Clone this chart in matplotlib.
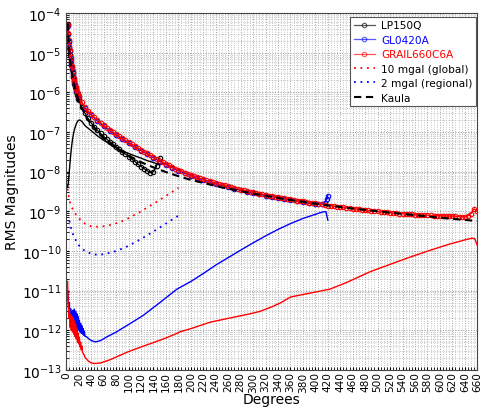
import matplotlib
matplotlib.use("Agg")
import matplotlib.pyplot as plt
from matplotlib.ticker import MultipleLocator, LogLocator, FixedLocator

# ---------------- data ----------------
# LP150Q signal spectrum
lp_deg = list(range(2, 21)) + list(range(25, 151, 5))
lp_sig = [5.2e-5, 3.0e-5, 1.9e-5, 1.3e-5, 9e-6, 6.5e-6, 5e-6, 3.8e-6, 3.0e-6, 2.4e-6,
          1.9e-6, 1.6e-6, 1.35e-6, 1.15e-6, 1.0e-6, 8.8e-7, 7.8e-7, 7.0e-7, 6.3e-7,
          4.2e-7, 3.0e-7, 2.2e-7, 1.7e-7, 1.35e-7, 1.1e-7, 9.2e-8, 7.8e-8, 6.6e-8, 5.7e-8,
          5.0e-8, 4.3e-8, 3.7e-8, 3.2e-8, 2.8e-8, 2.4e-8, 2.1e-8, 1.8e-8, 1.55e-8, 1.35e-8,
          1.2e-8, 1.05e-8, 9.5e-9, 1.0e-8, 1.4e-8, 2.2e-8]
# LP150Q error spectrum
lp_err_deg = [2, 3, 4, 5, 6, 7, 8, 9, 10, 12, 14, 16, 18, 20, 22, 25, 30, 35, 40, 50,
              60, 75, 90, 100, 110, 120, 130, 140, 150]
lp_err = [4e-9, 5e-9, 7e-9, 1.1e-8, 1.7e-8, 2.6e-8, 3.7e-8, 5e-8, 6.5e-8, 1e-7, 1.3e-7,
          1.6e-7, 1.85e-7, 2.0e-7, 2.0e-7, 1.85e-7, 1.45e-7, 1.25e-7, 1.08e-7, 8e-8,
          6.2e-8, 4.4e-8, 3.3e-8, 2.9e-8, 2.5e-8, 2.2e-8, 1.9e-8, 1.7e-8, 1.5e-8]

# GL0420A signal spectrum
gl_deg = list(range(2, 21)) + list(range(30, 401, 10)) + [405, 410, 415, 418, 420]
gl_sig = [4.8e-5, 3.0e-5, 2.0e-5, 1.4e-5, 1.1e-5, 7.5e-6, 5.6e-6, 4.3e-6, 3.3e-6, 2.6e-6,
          2.2e-6, 1.8e-6, 1.5e-6, 1.3e-6, 1.15e-6, 1.0e-6, 9e-7, 8e-7, 7.5e-7,
          4.0e-7, 2.7e-7, 1.9e-7, 1.4e-7, 1.07e-7, 8.3e-8, 6.6e-8, 5.2e-8, 4.2e-8, 3.4e-8,
          2.8e-8, 2.25e-8, 1.8e-8, 1.5e-8, 1.26e-8, 1.07e-8, 9.1e-9, 7.9e-9, 6.9e-9, 6.2e-9,
          5.5e-9, 4.9e-9, 4.5e-9, 4.1e-9, 3.7e-9, 3.4e-9, 3.1e-9, 2.9e-9, 2.7e-9, 2.5e-9,
          2.35e-9, 2.2e-9, 2.05e-9, 1.92e-9, 1.8e-9, 1.7e-9, 1.6e-9, 1.52e-9,
          1.5e-9, 1.5e-9, 1.6e-9, 2.0e-9, 2.5e-9]
# GL0420A error spectrum
gl_err_deg = list(range(2, 31)) + [32, 35, 40, 47, 55, 65, 80, 100, 124, 151, 178, 200,
                                   220, 240, 260, 280, 300, 320, 340, 360, 380, 400,
                                   412, 417, 420]
gl_err = [1.0e-11, 6e-12, 3e-12, 5e-12, 1.5e-12, 3.5e-12, 1.2e-12, 3.0e-12, 1.3e-12,
          3.2e-12, 1.4e-12, 3.4e-12, 1.3e-12, 3.0e-12, 1.2e-12, 2.6e-12, 1.1e-12, 2.2e-12,
          1.0e-12, 1.8e-12, 9e-13, 1.5e-12, 8.5e-13, 1.3e-12, 8e-13, 1.1e-12, 7.5e-13,
          9.5e-13, 7e-13,
          7.0e-13, 6.3e-13, 5.5e-13, 5.1e-13, 5.5e-13, 6.8e-13, 9e-13, 1.4e-12, 2.4e-12,
          5.1e-12, 1.1e-11, 1.7e-11, 2.7e-11, 4.4e-11, 6.8e-11, 1.05e-10, 1.6e-10,
          2.4e-10, 3.5e-10, 4.9e-10, 6.6e-10, 8.4e-10, 9.7e-10, 9.8e-10, 6e-10]

# GRAIL660C6A signal spectrum
gr_deg = list(range(2, 21)) + list(range(25, 661, 5))
gr_sig = [5.0e-5, 3.2e-5, 2.1e-5, 1.5e-5, 1.2e-5, 8.0e-6, 6.0e-6, 4.5e-6, 3.5e-6, 2.7e-6,
          2.3e-6, 1.9e-6, 1.6e-6, 1.4e-6, 1.2e-6, 1.05e-6, 9.5e-7, 8.5e-7, 7.9e-7,
          5.6e-7, 4.2e-7, 3.4e-7, 2.8e-7, 2.35e-7,
          2.0e-7, 1.7e-7, 1.48e-7, 1.29e-7, 1.12e-7,
          1.0e-7, 8.7e-8, 7.8e-8, 6.9e-8, 6.2e-8,
          5.5e-8, 4.9e-8, 4.4e-8, 4.0e-8, 3.55e-8,
          3.2e-8, 2.9e-8, 2.6e-8, 2.35e-8, 2.1e-8,
          1.9e-8, 1.74e-8, 1.58e-8, 1.45e-8, 1.32e-8,
          1.2e-8, 1.12e-8, 1.05e-8, 9.5e-9, 8.9e-9,
          8.3e-9, 7.8e-9, 7.2e-9, 6.8e-9, 6.5e-9,
          6.0e-9, 5.75e-9, 5.5e-9, 5.1e-9, 4.9e-9,
          4.7e-9, 4.5e-9, 4.3e-9, 4.1e-9, 3.9e-9,
          3.7e-9, 3.55e-9, 3.4e-9, 3.25e-9, 3.15e-9,
          3.0e-9, 2.9e-9, 2.8e-9, 2.7e-9, 2.6e-9,
          2.5e-9, 2.45e-9, 2.35e-9, 2.3e-9, 2.2e-9,
          2.15e-9, 2.1e-9, 2.0e-9, 1.95e-9, 1.86e-9,
          1.82e-9, 1.78e-9, 1.74e-9, 1.66e-9, 1.62e-9,
          1.58e-9, 1.55e-9, 1.5e-9, 1.45e-9, 1.4e-9,
          1.38e-9, 1.35e-9, 1.32e-9, 1.29e-9, 1.26e-9,
          1.23e-9, 1.2e-9, 1.17e-9, 1.15e-9, 1.12e-9,
          1.1e-9, 1.07e-9, 1.05e-9, 1.03e-9, 1.01e-9,
          1.0e-9, 9.8e-10, 9.6e-10, 9.4e-10, 9.2e-10,
          9.1e-10, 8.9e-10, 8.8e-10, 8.7e-10, 8.6e-10,
          8.5e-10, 8.4e-10, 8.3e-10, 8.2e-10, 8.1e-10,
          8.0e-10, 7.9e-10, 7.9e-10, 7.8e-10, 7.8e-10,
          7.7e-10, 7.7e-10, 7.6e-10, 7.6e-10, 7.5e-10,
          7.5e-10, 7.4e-10, 7.4e-10, 7.4e-10, 7.8e-10,
          8.8e-10, 1.15e-9, 1.0e-9]
# GRAIL660C6A error spectrum
gr_err_deg = list(range(2, 27)) + [28, 30, 35, 40, 45, 55, 70, 85, 100, 120, 140, 160,
                                   175, 183, 200, 231, 260, 295, 311, 330, 345, 360,
                                   380, 400, 424, 450, 488, 520, 552, 585, 616, 640,
                                   651, 656, 660]
gr_err = [1.7e-11, 5e-12, 2e-12, 3.5e-12, 1.2e-12, 2.5e-12, 1.0e-12, 2.2e-12, 9e-13,
          2.0e-12, 8e-13, 1.7e-12, 7e-13, 1.4e-12, 6e-13, 1.1e-12, 5e-13, 8.5e-13,
          4.5e-13, 6.5e-13, 3.8e-13, 5e-13, 3.2e-13, 4e-13, 2.8e-13,
          2.5e-13, 2.1e-13, 1.7e-13, 1.5e-13, 1.45e-13, 1.5e-13, 1.8e-13, 2.3e-13,
          2.9e-13, 3.8e-13, 4.9e-13, 6.4e-13, 8.0e-13, 9.2e-13, 1.1e-12, 1.6e-12,
          2.0e-12, 2.6e-12, 3.0e-12, 3.9e-12, 5.0e-12, 6.9e-12, 8.0e-12, 9.2e-12,
          1.1e-11, 1.6e-11, 3.0e-11, 4.6e-11, 7.0e-11, 1.05e-10, 1.5e-10, 1.9e-10,
          2.1e-10, 2.05e-10, 1.4e-10]

# Gravity anomaly equivalent spectra
mg10_deg = [2, 4, 6, 8, 10, 15, 20, 25, 30, 40, 50, 60, 70, 80, 90, 100, 110, 120, 130,
            140, 150, 160, 170, 180]
mg10 = [3.7e-9, 2.3e-9, 1.7e-9, 1.35e-9, 1.15e-9, 8.5e-10, 6.8e-10, 5.6e-10, 4.9e-10,
        4.2e-10, 4.1e-10, 4.2e-10, 4.5e-10, 5.0e-10, 5.7e-10, 6.7e-10, 8.2e-10, 1.0e-9,
        1.25e-9, 1.55e-9, 1.95e-9, 2.45e-9, 3.1e-9, 3.9e-9]
mg2_deg = [5, 8, 10, 15, 20, 25, 30, 40, 50, 60, 70, 80, 90, 100, 110, 120, 130, 140,
           150, 160, 170, 180]
mg2 = [5.8e-10, 3.6e-10, 2.8e-10, 1.9e-10, 1.4e-10, 1.15e-10, 1.0e-10, 8.5e-11, 8.0e-11,
       8.3e-11, 9.0e-11, 1.0e-10, 1.15e-10, 1.35e-10, 1.65e-10, 2.0e-10, 2.5e-10,
       3.1e-10, 3.9e-10, 4.9e-10, 6.2e-10, 7.8e-10]

# Kaula rule
kaula_deg = [2, 3, 4, 5, 6, 7, 8, 10, 12, 14, 16, 18, 20, 25, 30, 35, 40, 50, 60, 70, 80,
             100, 120, 140, 160, 180, 200, 250, 300, 350, 400, 450, 500, 550, 600, 660]
kaula = [5.5e-5, 2.8e-5, 1.6e-5, 1.0e-5, 6.9e-6, 5.1e-6, 3.9e-6, 2.5e-6, 1.74e-6, 1.28e-6,
         9.8e-7, 7.7e-7, 6.2e-7, 4.0e-7, 2.8e-7, 2.0e-7, 1.56e-7, 1.0e-7, 6.9e-8, 5.1e-8,
         3.9e-8, 2.5e-8, 1.74e-8, 1.28e-8, 9.8e-9, 7.7e-9, 6.2e-9, 4.0e-9, 2.8e-9,
         2.05e-9, 1.56e-9, 1.23e-9, 1.0e-9, 8.3e-10, 6.9e-10, 5.7e-10]

x_ticks = list(range(0, 661, 20))

# ---------------- plot ----------------
fig = plt.figure(figsize=(4.84, 4.14), dpi=100)
ax = fig.add_axes([0.137, 0.104, 0.849, 0.862])

mk = dict(marker='o', markersize=3.2, mfc='none', mew=0.8, lw=0.9)
h_lp, = ax.semilogy(lp_deg, lp_sig, color='black', label='LP150Q', **mk)
h_gl, = ax.semilogy(gl_deg, gl_sig, color='blue', label='GL0420A', **mk)
h_gr, = ax.semilogy(gr_deg, gr_sig, color='red', label='GRAIL660C6A', **mk)

ax.semilogy(lp_err_deg, lp_err, color='black', lw=1.0)
ax.semilogy(gl_err_deg, gl_err, color='blue', lw=1.0)
ax.semilogy(gr_err_deg, gr_err, color='red', lw=1.0)

dot = (0, (1, 2.6))
h_m10, = ax.semilogy(mg10_deg, mg10, color='red', lw=1.3, linestyle=dot,
                     label='10 mgal (global)')
h_m2, = ax.semilogy(mg2_deg, mg2, color='blue', lw=1.3, linestyle=dot,
                    label='2 mgal (regional)')
h_k, = ax.semilogy(kaula_deg, kaula, color='black', lw=1.5, linestyle=(0, (3.5, 2.2)),
                   label='Kaula')

ax.set_xlim(0, 660)
ax.set_ylim(1e-13, 1e-4)
ax.xaxis.set_major_locator(FixedLocator(x_ticks))
ax.xaxis.set_minor_locator(MultipleLocator(5))
ax.yaxis.set_major_locator(LogLocator(base=10, numticks=20))
ax.yaxis.set_minor_locator(LogLocator(base=10, subs=range(2, 10), numticks=20))
ax.set_xticks(x_ticks)
ax.set_xticklabels([str(v) for v in x_ticks], rotation=90, fontsize=7.6)
ax.tick_params(axis='y', labelsize=10)
ax.tick_params(which='both', direction='in', length=2)
ax.tick_params(axis='x', pad=1)

ax.grid(True, which='major', linestyle=':', color='#9a9a9a', lw=0.7)
ax.grid(True, which='minor', linestyle=':', color='#b5b5b5', lw=0.6)
for s in ax.spines.values():
    s.set_color('#444444')

ax.set_xlabel('Degrees', fontsize=10, labelpad=0)
ax.set_ylabel('RMS Magnitudes', fontsize=10, labelpad=2)

leg = ax.legend(handles=[h_lp, h_gl, h_gr, h_m10, h_m2, h_k], loc='upper right',
                bbox_to_anchor=(0.998, 0.99), borderaxespad=0, fontsize=7.6,
                fancybox=False, framealpha=1, edgecolor='#555555', handlelength=2.0,
                labelspacing=0.42, borderpad=0.35, handletextpad=0.6)
leg.get_frame().set_linewidth(0.8)
for txt, c in zip(leg.get_texts(), ['black', 'blue', 'red', 'black', 'black', 'black']):
    txt.set_color(c)
for lh in leg.legend_handles[:3]:
    lh.set_alpha(0.65)

fig.savefig('out.png', dpi=100)
